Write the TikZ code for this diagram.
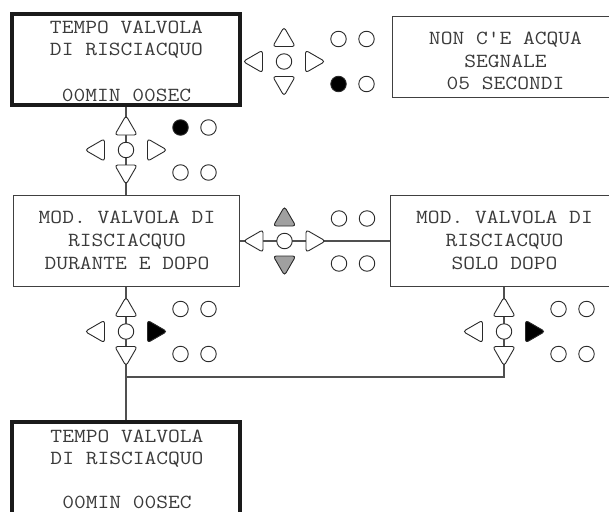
\documentclass[tikz,border=0pt]{standalone}
\usepackage{fontspec}
\newfontfamily\dispfont[FakeStretch=1.143]{Latin Modern Mono}
\usetikzlibrary{shapes.geometric,backgrounds}
\definecolor{txtc}{HTML}{3A3A3A}
\definecolor{boxc}{HTML}{404040}
\definecolor{boxk}{HTML}{1A1A1A}
\definecolor{connc}{HTML}{505050}
\definecolor{symc}{HTML}{2A2A2A}
\definecolor{grayc}{HTML}{A0A0A0}
\begin{document}
\begin{tikzpicture}[x=1pt,y=-1pt,
  thickbox/.style={draw=boxk, line width=4pt, minimum width=228pt, minimum height=91.6pt, inner sep=0pt},
  thinbox/.style={draw=boxc, line width=1pt, inner sep=0pt},
  lbl/.style={anchor=base, inner sep=0pt, text=txtc, font=\dispfont\fontsize{20}{22.5}\selectfont},
  conn/.style={draw=connc, line width=1.1pt},
  tri/.style={regular polygon, regular polygon sides=3, minimum size=26pt, inner sep=0pt, draw=symc, line width=0.9pt, rounded corners=3pt, fill=white},
  triU/.style={tri},
  triD/.style={tri, shape border rotate=180},
  triL/.style={tri, shape border rotate=90},
  triR/.style={tri, shape border rotate=270},
  dot/.style={circle, minimum size=15.5pt, inner sep=0pt, draw=symc, line width=0.9pt, fill=white},
  ledon/.style={fill=black},
  grayon/.style={fill=grayc}]
\useasboundingbox (0,0) rectangle (609,511);
\clip (0,0) rectangle (609,511);

% boxes
\node[thickbox] (tlbox) at (126,59.5) {};
\node[thinbox, minimum width=227pt, minimum height=81pt] (trbox) at (505.5,56.7) {};
\node[thinbox, minimum width=226pt, minimum height=91pt] (mlbox) at (126,241) {};
\node[thinbox, minimum width=227pt, minimum height=91pt] (mrbox) at (504,241) {};
\node[thickbox] (blbox) at (126,467.8) {};

% texts
\node[lbl] (tl1) at (126.5,33.5) {TEMPO VALVOLA};
\node[lbl] (tl2) at (126.5,56) {DI RISCIACQUO};
\node[lbl] (tl3) at (126.5,101) {00MIN 00SEC};

\node[lbl] (tr1) at (505.5,45) {NON C'E ACQUA};
\node[lbl] (tr2) at (505.5,67) {SEGNALE};
\node[lbl] (tr3) at (505.5,89.5) {05 SECONDI};

\node[lbl] (ml1) at (127,223.5) {MOD. VALVOLA DI};
\node[lbl] (ml2) at (127,246) {RISCIACQUO};
\node[lbl] (ml3) at (127,269.5) {DURANTE E DOPO};

\node[lbl] (mr1) at (504.5,223.5) {MOD. VALVOLA DI};
\node[lbl] (mr2) at (504.5,246) {RISCIACQUO};
\node[lbl] (mr3) at (504.5,269.5) {SOLO DOPO};

\node[lbl] (bl1) at (127,442) {TEMPO VALVOLA};
\node[lbl] (bl2) at (127,464.5) {DI RISCIACQUO};
\node[lbl] (bl3) at (127,508) {00MIN 00SEC};

% keypad 1
\begin{scope}[shift={(284,61.5)}]
\node[dot] (k1c) at (0,0) {};
\node[triU] (k1u) at (0,-21.5) {};
\node[triD] (k1d) at (0,21.5) {};
\node[triL] (k1l) at (-28,0) {};
\node[triR] (k1r) at (28,0) {};
\node[dot] (k1a) at (54.5,-22.5) {};
\node[dot] (k1b) at (82.5,-22.5) {};
\node[dot,ledon] (k1e) at (54.5,22.5) {};
\node[dot] (k1f) at (82.5,22.5) {};
\end{scope}

% keypad 2
\begin{scope}[shift={(126,150)}]
\node[dot] (k2c) at (0,0) {};
\node[triU] (k2u) at (0,-21.5) {};
\node[triD] (k2d) at (0,21.5) {};
\node[triL] (k2l) at (-28,0) {};
\node[triR] (k2r) at (28,0) {};
\node[dot,ledon] (k2a) at (54.5,-22.5) {};
\node[dot] (k2b) at (82.5,-22.5) {};
\node[dot] (k2e) at (54.5,22.5) {};
\node[dot] (k2f) at (82.5,22.5) {};
\end{scope}

% keypad 3
\begin{scope}[shift={(284.5,241)}]
\node[dot] (k3c) at (0,0) {};
\node[triU,grayon] (k3u) at (0,-21.5) {};
\node[triD,grayon] (k3d) at (0,21.5) {};
\node[triL] (k3l) at (-28,0) {};
\node[triR] (k3r) at (28,0) {};
\node[dot] (k3a) at (54.5,-22.5) {};
\node[dot] (k3b) at (82.5,-22.5) {};
\node[dot] (k3e) at (54.5,22.5) {};
\node[dot] (k3f) at (82.5,22.5) {};
\end{scope}

% keypad 4
\begin{scope}[shift={(126,331.5)}]
\node[dot] (k4c) at (0,0) {};
\node[triU] (k4u) at (0,-21.5) {};
\node[triD] (k4d) at (0,21.5) {};
\node[triL] (k4l) at (-28,0) {};
\node[triR,ledon] (k4r) at (28,0) {};
\node[dot] (k4a) at (54.5,-22.5) {};
\node[dot] (k4b) at (82.5,-22.5) {};
\node[dot] (k4e) at (54.5,22.5) {};
\node[dot] (k4f) at (82.5,22.5) {};
\end{scope}

% keypad 5
\begin{scope}[shift={(504,331.5)}]
\node[dot] (k5c) at (0,0) {};
\node[triU] (k5u) at (0,-21.5) {};
\node[triD] (k5d) at (0,21.5) {};
\node[triL] (k5l) at (-28,0) {};
\node[triR,ledon] (k5r) at (28,0) {};
\node[dot] (k5a) at (54.5,-22.5) {};
\node[dot] (k5b) at (82.5,-22.5) {};
\node[dot] (k5e) at (54.5,22.5) {};
\node[dot] (k5f) at (82.5,22.5) {};
\end{scope}

\coordinate (jn) at (126,377);

\begin{pgfonlayer}{background}
\draw[conn] (tlbox.south) -- (k2u.center) -- (k2c.center) -- (k2d.center) -- (mlbox.north);
\draw[conn] (mlbox.east) -- (k3l.center) -- (k3c.center) -- (k3r.center) -- (mrbox.west);
\draw[conn] (mlbox.south) -- (k4u.center) -- (k4c.center) -- (k4d.center) -- (blbox.north);
\draw[conn] (mrbox.south) -- (k5u.center) -- (k5c.center) -- (k5d.center) |- (jn);
\end{pgfonlayer}
\end{tikzpicture}
\end{document}
